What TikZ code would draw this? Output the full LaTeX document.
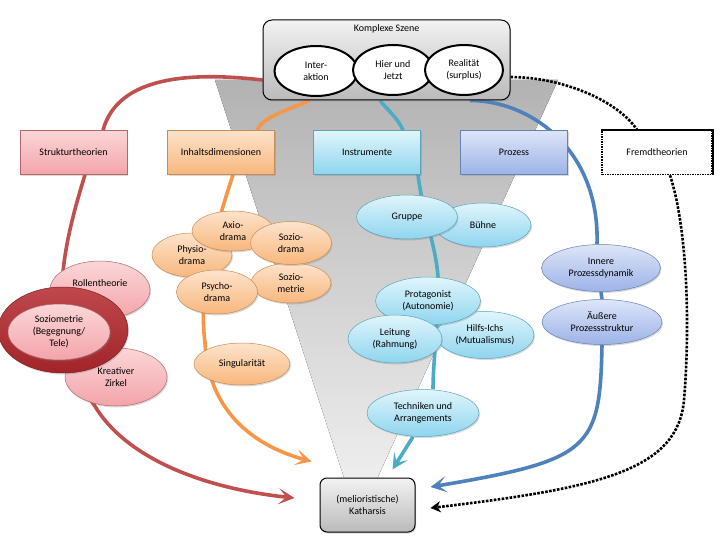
\documentclass[tikz,border=0pt]{standalone}
\usepackage{fontspec}
\setmainfont{Carlito}
\usetikzlibrary{positioning,shapes.geometric,shadows,arrows.meta,backgrounds}
\definecolor{rothell}{HTML}{FBD6D7}
\definecolor{rotdunkel}{HTML}{F3A4AA}
\definecolor{rotrand}{HTML}{B0686A}
\definecolor{orahell}{HTML}{FDE3CB}
\definecolor{oradunkel}{HTML}{F8B77C}
\definecolor{orarand}{HTML}{C68D56}
\definecolor{tuehell}{HTML}{E0F5FC}
\definecolor{tuedunkel}{HTML}{8ED5EE}
\definecolor{tuerand}{HTML}{5AA3BB}
\definecolor{blauhell}{HTML}{DDE5F8}
\definecolor{blaudunkel}{HTML}{9CB3E7}
\definecolor{blaurand}{HTML}{6681B2}
\definecolor{linierot}{HTML}{C0504D}
\definecolor{linieora}{HTML}{F79646}
\definecolor{linietue}{HTML}{4BACC6}
\definecolor{linieblau}{HTML}{4F81BD}
\definecolor{ringrot}{HTML}{B3282D}

\begin{document}
\begin{tikzpicture}[x=1pt,y=-1pt,
    every node/.style={font=\fontsize{10}{12}\selectfont,align=center,inner sep=1pt},
    schatten/.style={drop shadow={opacity=0.3,shadow xshift=1pt,shadow yshift=-1.5pt}},
    kasten/.style={rectangle,minimum width=107pt,minimum height=44pt,draw=#1rand,line width=0.6pt,top color=#1hell,bottom color=#1dunkel,schatten},
    blase/.style={ellipse,draw=#1rand,line width=0.5pt,top color=#1hell,bottom color=#1dunkel,schatten},
    szenenblase/.style={ellipse,draw,line width=2pt,fill=white,minimum height=50pt},
    grau/.style={rectangle,rounded corners=9pt,draw,line width=1pt,top color=black!5,bottom color=black!27,schatten},
    linie/.style={draw=#1,line width=3.6pt},
    pfeil/.style={linie=#1,-{Stealth[length=16pt,width=16pt,inset=8pt]}},
    punkte/.style={line width=2.6pt,dash pattern=on 2.6pt off 1.4pt}]
    \useasboundingbox (0,0) rectangle (720,540);
    \node[grau,minimum width=247pt,minimum height=80pt] (szene) at (386.5,60) {};
    \node[below=4pt of szene.north] (szenetitel) {Komplexe Szene};
    \node[szenenblase,minimum width=83pt] (inter) at (316,71) {Inter-\\aktion};
    \node[szenenblase,minimum width=80pt] (hier) at (393,70) {Hier und\\Jetzt};
    \node[szenenblase,minimum width=78pt] (realitaet) at (464,70) {Realität\\(surplus)};

    \node[kasten=rot] (struk) at (73.5,152.5) {Strukturtheorien};
    \node[kasten=ora] (inhalt) at (221,152.5) {Inhaltsdimensionen};
    \node[kasten=tue] (instr) at (367,152.5) {Instrumente};
    \node[kasten=blau] (prozess) at (514,152.5) {Prozess};
    \node[rectangle,minimum width=110pt,minimum height=44pt,fill=white,draw,line width=1.5pt,dash pattern=on 1.5pt off 1pt] (fremd) at (657,152.5) {Fremdtheorien};
    \draw[line width=2.2pt] (fremd.north west) -- (fremd.north east) -- (fremd.south east);

    \node[blase=rot,minimum width=100pt,minimum height=58pt] (rollen) at (100,290) {Rollentheorie\\[1pt]\mbox{}};
    \node[blase=rot,minimum width=102pt,minimum height=58pt] (zirkel) at (116,377) {Kreativer\\Zirkel};
    \node[ellipse,minimum width=130pt,minimum height=86pt,top color=ringrot!85!white,bottom color=ringrot!90!black,draw=ringrot!70!black,line width=0.5pt,schatten] (ring) at (63,330) {};
    \node[blase=rot,minimum width=102pt,minimum height=56pt] (sozio) at (59,332) {Soziometrie\\(Begegnung/\\Tele)};

    \node[blase=ora,minimum width=80pt,minimum height=44pt] (physio) at (192,255) {Physio-\\drama};
    \node[blase=ora,minimum width=82pt,minimum height=40pt] (axio) at (233,231) {Axio-\\drama};
    \node[blase=ora,minimum width=80pt,minimum height=40pt] (sozmetrie) at (291,283) {Sozio-\\metrie};
    \node[blase=ora,minimum width=81pt,minimum height=43pt] (sozdrama) at (291,243) {Sozio-\\drama};
    \node[blase=ora,minimum width=81pt,minimum height=44pt] (psycho) at (217,292) {Psycho-\\drama};
    \node[blase=ora,minimum width=96pt,minimum height=42pt] (singular) at (242,364) {Singularität};

    \node[blase=tue,minimum width=96pt,minimum height=44pt] (buehne) at (483,225) {Bühne};
    \node[blase=tue,minimum width=101pt,minimum height=44pt] (gruppe) at (407,217) {Gruppe};
    \node[blase=tue,minimum width=98pt,minimum height=47pt] (hilfs) at (485,335) {Hilfs-Ichs\\(Mutualismus)};
    \node[blase=tue,minimum width=105pt,minimum height=48pt] (prot) at (428,301) {Protagonist\\(Autonomie)};
    \node[blase=tue,minimum width=94pt,minimum height=48pt] (leitung) at (395,339) {Leitung\\(Rahmung)};
    \node[blase=tue,minimum width=112pt,minimum height=47pt] (tech) at (423,413) {Techniken und\\Arrangements};

    \node[blase=blau,minimum width=119pt,minimum height=47pt] (innere) at (601,268) {Innere\\Prozessdynamik};
    \node[blase=blau,minimum width=120pt,minimum height=45pt] (aeussere) at (602,322) {Äußere\\Prozessstruktur};

    \node[grau,rounded corners=7pt,minimum width=95pt,minimum height=54pt] (kath) at (367.5,505) {(melioristische)\\Katharsis};

    \coordinate (rotende) at ([xshift=-25pt,yshift=7pt]kath.west);
    \coordinate (oraende) at ([xshift=-8pt,yshift=16pt]kath.north west);
    \coordinate (tueende) at ([xshift=25pt,yshift=8pt]kath.north);
    \coordinate (blauende) at ([xshift=15pt,yshift=18pt]kath.east);
    \coordinate (schwarzende) at ([xshift=15pt,yshift=-3pt]kath.east);

    \begin{scope}[on background layer]
        \fill[top color=black!30,bottom color=black!6] (215,80) -- (558,80) -- (372,490) -- (348,490) -- cycle;
        \draw[linie=linierot] ([yshift=-20pt]szene.west) .. controls +(-70,-8) and +(15,-55) .. ([xshift=29.5pt]struk.north);
        \draw[pfeil=linierot] ([xshift=11.5pt]struk.south) .. controls +(-20,65) and +(-55,-75) .. ([xshift=-21pt]zirkel.south) .. controls +(30,50) and +(-95,-10) .. (rotende);
        \draw[linie=linieora] ([xshift=-76.5pt]szene.south) .. controls +(-25,10) and +(5,-12) .. ([xshift=36pt]inhalt.north);
        \draw[pfeil=linieora] ([xshift=12pt]inhalt.south) .. controls +(-18,55) and +(-7,-55) .. ([xshift=-37pt]singular.north) .. controls +(3,65) and +(-62,-17) .. (oraende);
        \draw[linie=linietue] ([xshift=-6.5pt]szene.south) .. controls +(8,10) and +(-5,-12) .. ([xshift=36pt]instr.north);
        \draw[linie=linietue] ([xshift=51pt]instr.south) .. controls +(5,40) and +(-2,-30) .. ([xshift=10pt]prot.north) .. controls +(2,30) and +(0,-30) .. ([xshift=10pt]tech.north);
        \draw[pfeil=linietue] ([xshift=-10pt]tech.south) -- (tueende);
        \draw[linie=linieblau] ([xshift=83.5pt]szene.south) .. controls +(60,0) and +(3,-95) .. ([xshift=-4pt]innere.north);
        \draw[linie=linieblau] (innere.south) -- (aeussere.north);
        \draw[pfeil=linieblau] (aeussere.south) .. controls +(-2,105) and +(160,-27) .. (blauende);
        \draw[punkte] ([yshift=-17pt]szene.east) .. controls +(50,0) and +(-20,-30) .. ([xshift=-20pt]fremd.north);
        \draw[punkte,-{Stealth[length=10pt,width=11pt,inset=3pt]}] ([xshift=13pt]fremd.south) .. controls +(18,55) and +(6,-70) .. (684,400) .. controls +(-6,70) and +(170,-20) .. (schwarzende);
    \end{scope}
\end{tikzpicture}
\end{document}
